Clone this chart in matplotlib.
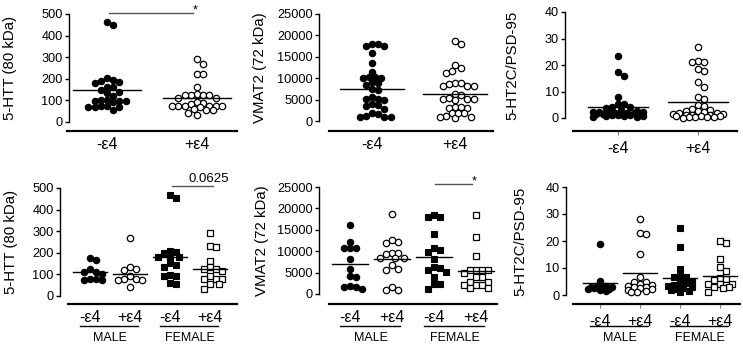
import numpy as np
import matplotlib.pyplot as plt

plt.rcParams['font.family'] = ['Liberation Sans', 'DejaVu Sans']

# ---------------- data ----------------
genotypes = ['-\u03b54', '+\u03b54']
sexes = ['MALE', 'FEMALE']

# top row: all subjects by genotype
htt_neg = [450, 463, 202, 188, 184, 196, 162, 162, 147, 134, 96, 99, 103, 122, 103,
           99, 73, 73, 69, 57, 69, 69, 91, 180, 140]
htt_pos = [270, 292, 224, 224, 130, 127, 123, 127, 127, 160, 111, 88, 91, 83, 76,
           73, 69, 73, 73, 73, 62, 73, 54, 54, 42, 34, 110]
htt_means = [150, 110]

vmat_neg = [17578, 18047, 17969, 17578, 15859, 13516, 11562, 10390, 10156, 10156,
            10390, 9219, 8828, 8437, 7266, 7422, 5078, 4922, 5703, 5078, 3984, 3516,
            3672, 2734, 1640, 1016, 860, 1016, 1172, 1953]
vmat_pos = [18594, 17969, 12344, 11328, 11797, 13125, 8984, 8594, 8203, 8203, 8203,
            8984, 6094, 6328, 5078, 5078, 5078, 5469, 4922, 3203, 2969, 2969, 3203,
            1797, 1172, 860, 625, 860, 1797, 1953]
vmat_means = [7500, 6330]

ht2c_neg = [23.4, 17.5, 15.9, 7.8, 5.3, 5.3, 3.8, 4.0, 4.0, 3.2, 2.6, 2.4, 2.2, 2.0,
            2.0, 1.8, 1.6, 1.5, 1.4, 1.2, 1.0, 0.9, 0.8, 0.6, 0.5, 0.3, 2.2, 1.9, 1.7, 1.3]
ht2c_pos = [26.9, 21.5, 21.3, 21.0, 17.8, 18.4, 13.4, 11.6, 8.1, 7.3, 5.0, 4.6, 3.4,
            3.1, 2.8, 2.5, 2.2, 1.9, 1.8, 1.6, 1.5, 1.3, 1.2, 1.0, 0.9, 0.8, 0.6, 0.5,
            0.4, 0.3, 0.2, 0.1]
ht2c_means = [4.0, 6.0]

# bottom row: split by sex (male -e4, male +e4, female -e4, female +e4)
htt_m_neg = [178, 166, 123, 112, 112, 101, 81, 73, 73, 81]
htt_m_pos = [267, 135, 127, 120, 73, 81, 81, 92, 73, 42]
htt_f_neg = [453, 469, 208, 200, 205, 179, 179, 179, 135, 143, 151, 92, 92, 96, 61, 57]
htt_f_pos = [293, 231, 228, 163, 132, 127, 127, 92, 116, 81, 81, 81, 54, 34, 54]
htt_sex_means = [109, 104, 179, 123]

vmat_m_neg = [16071, 12190, 10792, 10792, 10792, 8075, 5745, 4193, 3882, 1863, 1553,
              1553, 1087]
vmat_m_pos = [18789, 12190, 11957, 12733, 9472, 9317, 9472, 8307, 8307, 8307, 6755,
              5745, 5590, 1553, 932, 932]
vmat_f_neg = [18012, 18012, 18400, 14130, 10792, 9860, 10248, 8075, 6366, 5978, 5202,
              5590, 2251, 2251, 1165, 4037]
vmat_f_pos = [18400, 13354, 8851, 5590, 5590, 5590, 5590, 3882, 3882, 2873, 2873, 2096,
              2096, 2096, 1320, 1320, 4814]
vmat_sex_means = [6910, 8075, 8540, 5435]

ht2c_m_neg = [18.9, 5.2, 3.5, 3.3, 3.1, 3.1, 2.8, 2.5, 2.3, 2.1, 1.8, 1.6]
ht2c_m_pos = [28.1, 22.9, 22.7, 15.1, 6.6, 5.0, 5.0, 4.0, 3.7, 3.5, 3.0, 2.8, 2.5, 2.2,
              1.8, 1.4, 1.2, 1.0]
ht2c_f_neg = [24.8, 17.6, 9.5, 7.1, 6.8, 6.8, 5.0, 4.6, 4.4, 3.7, 3.3, 3.0, 2.7, 2.4,
              2.0, 1.6, 1.2]
ht2c_f_pos = [19.4, 20.1, 13.3, 10.2, 9.0, 6.2, 5.8, 5.6, 4.0, 4.0, 4.0, 3.8, 2.8, 2.8,
              2.6, 1.2]
ht2c_sex_means = [4.3, 8.3, 6.2, 7.1]

# ---------------- layout ----------------
W, H = 743, 346
fig = plt.figure(figsize=(W / 100, H / 100), dpi=100)

FILLED_C = dict(marker='o', mfc='k', mec='k', ms=4.6, mew=0.8)
OPEN_C = dict(marker='o', mfc='white', mec='k', ms=4.6, mew=0.9)
FILLED_S = dict(marker='s', mfc='k', mec='k', ms=4.0, mew=0.8)
OPEN_S = dict(marker='s', mfc='white', mec='k', ms=4.0, mew=0.9)


def swarm(vals, pxu, d, max_half):
    # simple beeswarm in pixel space, x offsets in px, clamped to max_half
    vals = np.asarray(vals, float)
    xs = np.zeros(len(vals))
    placed = []
    steps = [0.0]
    k = 1
    while k * d * 0.5 <= max_half:
        steps += [k * d * 0.5, -k * d * 0.5]
        k += 1
    for i in np.argsort(-vals):
        y = vals[i] * pxu
        best, score = 0.0, -1.0
        for c in steps:
            md = min([np.hypot(c - px, y - py) for px, py in placed] or [1e9])
            if md >= 0.95 * d:
                best = c
                break
            if md > score:
                best, score = c, md
        placed.append((best, y))
        xs[i] = best
    return xs


def panel(box, c0, sp, groups, means, ymax, ystep, ylabel, ylab_x, styles,
          hw=0.38, sex=False, sig=None, xticks_len=0, max_half=26):
    spine_x, right_x, top_y, zero_y, line_y, line_x0 = box
    ax = fig.add_axes([spine_x / W, 1 - line_y / H, (right_x - spine_x) / W,
                       (line_y - top_y) / H])
    pxu = (zero_y - top_y) / ymax
    ax.set_ylim(-(line_y - zero_y) / pxu, ymax)
    ax.set_xlim(-(c0 - spine_x) / sp, (right_x - c0) / sp)

    for i, vals in enumerate(groups):
        xo = swarm(vals, pxu, 6.2, max_half) / sp
        ax.plot(i + xo, vals, ls='none', clip_on=False, zorder=3, **styles[i])
        ax.plot([i - hw, i + hw], [means[i], means[i]], color='k', lw=1.0, zorder=4)

    for s in ['top', 'right']:
        ax.spines[s].set_visible(False)
    ax.spines['left'].set_bounds(0, ymax)
    ax.spines['left'].set_linewidth(1.0)
    ax.spines['bottom'].set_linewidth(1.6)
    ax.spines['bottom'].set_bounds((line_x0 - c0) / sp, (right_x - c0) / sp)
    ax.set_yticks(np.arange(0, ymax + 1, ystep))
    ax.tick_params(axis='y', length=3, width=1.0, labelsize=9.2, pad=1.5)

    n = len(groups)
    ax.set_xticks(range(n))
    ax.set_xticklabels(genotypes * (n // 2))
    ax.tick_params(axis='x', length=xticks_len, width=0.6, color='#666666',
                   labelsize=11.5, pad=4)

    ax.set_ylabel(ylabel, fontsize=10.8)
    ax.yaxis.set_label_coords((ylab_x + 7 - spine_x) / (right_x - spine_x),
                              (line_y - (top_y + zero_y) / 2) / (line_y - top_y))

    if sex:
        ty = lambda py: (line_y - py) / (line_y - top_y)
        tr = ax.get_xaxis_transform()
        for g, name in enumerate(sexes):
            ax.plot([2 * g - 0.25, 2 * g + 1.2], [ty(326), ty(326)], color='k', lw=1.0,
                    transform=tr, clip_on=False)
            ax.text(2 * g + 0.5, ty(338), name, transform=tr, ha='center', va='center',
                    fontsize=9)

    if sig is not None:
        x0, x1, yv, txt, tdx, tdy, fs = sig
        ax.plot([x0, x1], [yv, yv], color='#555555', lw=1.0, clip_on=False)
        ax.text(x1 + tdx, yv + tdy, txt, ha='center', va='bottom', fontsize=fs,
                clip_on=False)
    return ax


panel((69, 237, 14, 122, 131, 67), 107, 90, [htt_neg, htt_pos], htt_means, 500, 100,
      '5-HTT (80 kDa)', 10, [FILLED_C, OPEN_C],
      sig=(0.02, 0.96, 505, '*', 0.02, -15, 9))
panel((319, 493, 14, 121, 131, 329), 372, 83, [vmat_neg, vmat_pos], vmat_means, 25000,
      5000, 'VMAT2 (72 kDa)', 260, [FILLED_C, OPEN_C], max_half=24)
panel((565, 737, 12, 118, 131, 573), 618, 80, [ht2c_neg, ht2c_pos], ht2c_means, 40, 10,
      '5-HT2C/PSD-95', 512, [FILLED_C, OPEN_C], xticks_len=3, max_half=26)

panel((60, 237, 188, 296, 304, 68), 90, 40,
      [htt_m_neg, htt_m_pos, htt_f_neg, htt_f_pos], htt_sex_means, 500, 100,
      '5-HTT (80 kDa)', 11, [FILLED_C, OPEN_C, FILLED_S, OPEN_S], hw=0.42, sex=True,
      sig=(2.05, 3.08, 510, '0.0625', -0.1, 5, 9.5), max_half=14)
panel((319, 497, 187, 294, 304, 329), 350, 42,
      [vmat_m_neg, vmat_m_pos, vmat_f_neg, vmat_f_pos], vmat_sex_means, 25000, 5000,
      'VMAT2 (72 kDa)', 262, [FILLED_C, OPEN_C, FILLED_S, OPEN_S], hw=0.42, sex=True,
      sig=(2.02, 2.9, 25700, '*', 0.05, -800, 9), max_half=14)
panel((566, 740, 187, 295, 304, 573), 600, 40,
      [ht2c_m_neg, ht2c_m_pos, ht2c_f_neg, ht2c_f_pos], ht2c_sex_means, 40, 10,
      '5-HT2C/PSD-95', 520, [FILLED_C, OPEN_C, FILLED_S, OPEN_S], hw=0.42, sex=True,
      xticks_len=3, max_half=14)

fig.savefig('out.png', dpi=100)
